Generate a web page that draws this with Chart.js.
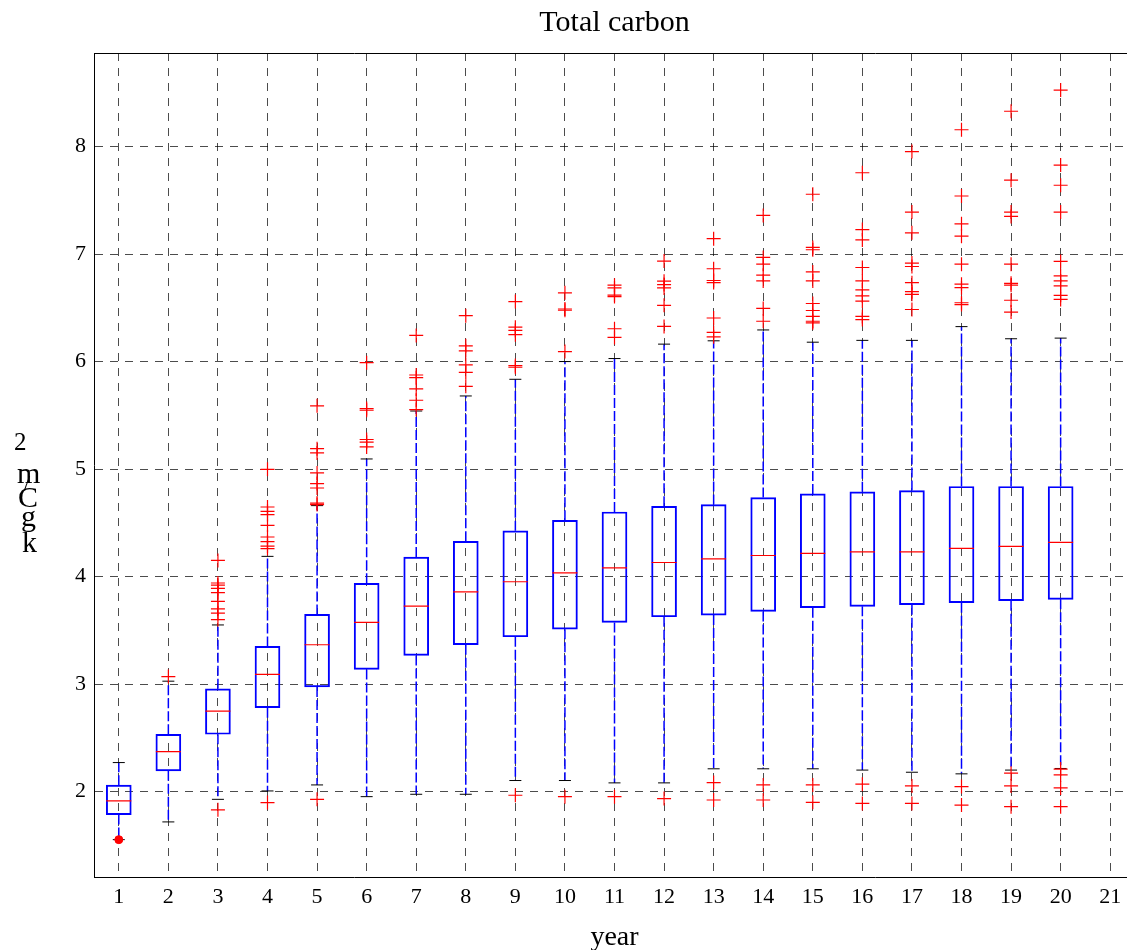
<!DOCTYPE html>
<html>
<head>
<meta charset="utf-8">
<title>Total carbon</title>
<script src="https://cdn.jsdelivr.net/npm/chart.js@4.4.1/dist/chart.umd.min.js"></script>
<style>
  html, body { margin: 0; padding: 0; background: #fff; overflow: hidden; }
  #wrap { position: relative; width: 1228px; height: 950px; }
  #carbonChart { display: block; }
  .yl { position: absolute; font-family: 'Liberation Serif', 'Times New Roman', serif; line-height: 1; color: #000; }
</style>
</head>
<body>
<div id="wrap">
  <canvas id="carbonChart" width="1228" height="950"></canvas>
  <!-- stacked y-axis label, as in the original figure -->
  <span class="yl" style="left:14px; top:429px; font-size:25px">2</span>
  <span class="yl" style="left:17px; top:458px; font-size:30px">m</span>
  <span class="yl" style="left:24px; top:472px; font-size:22px">/</span>
  <span class="yl" style="left:18px; top:482px; font-size:30px">C</span>
  <span class="yl" style="left:21px; top:501px; font-size:30px">g</span>
  <span class="yl" style="left:22px; top:527px; font-size:30px">k</span>
</div>
<script>
// Box plot values (kg C / m2)
const years = [1, 2, 3, 4, 5, 6, 7, 8, 9, 10, 11, 12, 13, 14, 15, 16, 17, 18, 19, 20];
const xTicks = [1, 2, 3, 4, 5, 6, 7, 8, 9, 10, 11, 12, 13, 14, 15, 16, 17, 18, 19, 20, 21];
const yTicks = [2, 3, 4, 5, 6, 7, 8];
const q1 = [1.786, 2.193, 2.533, 2.78, 2.974, 3.136, 3.266, 3.366, 3.44, 3.511, 3.573, 3.626, 3.642, 3.676, 3.71, 3.723, 3.738, 3.757, 3.776, 3.788];
const median = [1.913, 2.372, 2.748, 3.09, 3.366, 3.574, 3.726, 3.857, 3.952, 4.034, 4.081, 4.131, 4.165, 4.196, 4.215, 4.23, 4.23, 4.262, 4.28, 4.318];
const q3 = [2.06, 2.533, 2.956, 3.35, 3.648, 3.937, 4.182, 4.328, 4.426, 4.523, 4.601, 4.654, 4.67, 4.735, 4.769, 4.788, 4.8, 4.838, 4.838, 4.838];
const whiskerHigh = [2.27, 3.027, 3.55, 4.188, 4.66, 5.094, 5.54, 5.68, 5.835, 6.0, 6.028, 6.162, 6.193, 6.294, 6.18, 6.197, 6.197, 6.325, 6.212, 6.218];
const whiskerLow = [1.553, 1.718, 1.928, 2.006, 2.062, 1.953, 1.975, 1.975, 2.103, 2.103, 2.081, 2.081, 2.212, 2.212, 2.212, 2.2, 2.18, 2.165, 2.2, 2.215];
const outliers = [
    [],
    [3.07],
    [4.15, 3.94, 3.92, 3.89, 3.85, 3.77, 3.70, 3.66, 3.60, 1.83],
    [4.998, 4.647, 4.607, 4.577, 4.477, 4.368, 4.325, 4.284, 4.26, 1.898],
    [5.588, 5.19, 5.15, 4.964, 4.865, 4.824, 4.684, 4.67, 1.928],
    [5.99, 5.563, 5.547, 5.275, 5.25, 5.206],
    [6.243, 5.875, 5.85, 5.745, 5.64, 5.553],
    [6.427, 6.146, 6.10, 5.969, 5.90, 5.77],
    [6.558, 6.32, 6.29, 6.25, 5.963, 5.947, 1.966],
    [6.639, 6.489, 6.477, 6.093, 1.953],
    [6.71, 6.685, 6.617, 6.604, 6.305, 6.224, 1.953],
    [6.935, 6.748, 6.716, 6.685, 6.523, 6.327, 1.935],
    [7.143, 6.863, 6.754, 6.735, 6.405, 6.271, 6.23, 2.084, 1.922],
    [7.359, 6.969, 6.906, 6.803, 6.75, 6.494, 6.375, 2.062, 1.922],
    [7.556, 7.062, 7.04, 6.834, 6.75, 6.54, 6.475, 6.42, 6.375, 6.36, 2.062, 1.9],
    [7.756, 7.228, 7.131, 6.875, 6.75, 6.666, 6.61, 6.562, 6.42, 6.39, 2.069, 1.89],
    [7.953, 7.39, 7.197, 6.916, 6.884, 6.734, 6.65, 6.625, 6.484, 2.053, 1.89],
    [8.156, 7.54, 7.281, 7.166, 6.906, 6.72, 6.687, 6.547, 6.53, 2.047, 1.875],
    [8.328, 7.687, 7.39, 7.35, 6.906, 6.728, 6.71, 6.57, 6.46, 2.171, 2.053, 1.86],
    [8.525, 7.828, 7.64, 7.39, 6.931, 6.797, 6.75, 6.703, 6.616, 6.578, 2.209, 2.156, 2.034, 1.86]
];
// the single filled marker under year 1
const year1Low = [1.553];

const serif = "'Liberation Serif', 'Times New Roman', serif";

// build the point lists the library needs
const boxPoints = years.map((yr, i) => ({ x: yr, y: [q1[i], q3[i]] }));
const medianPoints = years.map((yr, i) => ({ x: yr, y: median[i] }));
const capPoints = [];
const whiskerPoints = [];
years.forEach((yr, i) => {
    capPoints.push({ x: yr, y: whiskerHigh[i] }, { x: yr, y: whiskerLow[i] });
    whiskerPoints.push({ x: yr, y: q3[i] }, { x: yr, y: whiskerHigh[i] }, { x: yr, y: null });
    whiskerPoints.push({ x: yr, y: q1[i] }, { x: yr, y: whiskerLow[i] }, { x: yr, y: null });
});
const outlierPoints = [];
outliers.forEach((list, i) => {
    list.forEach(v => outlierPoints.push({ x: years[i], y: v }));
});
const dotPoints = year1Low.map(v => ({ x: years[0], y: v }));

const ctx = document.getElementById('carbonChart').getContext('2d');
const carbonChart = new Chart(ctx, {
    type: 'scatter',
    data: {
        datasets: [
            {
                label: 'low value',
                data: dotPoints,
                pointStyle: 'circle',
                pointRadius: 4,
                backgroundColor: '#ff0000',
                borderColor: '#ff0000',
                borderWidth: 1
            },
            {
                label: 'outliers',
                data: outlierPoints,
                pointStyle: 'cross',
                pointRadius: 7,
                borderColor: '#ff0000',
                borderWidth: 1.2
            },
            {
                label: 'median',
                data: medianPoints,
                pointStyle: 'line',
                pointRadius: 12.5,
                borderColor: '#ff0000',
                borderWidth: 1.2
            },
            {
                label: 'whisker caps',
                data: capPoints,
                pointStyle: 'line',
                pointRadius: 6,
                borderColor: '#000000',
                borderWidth: 1
            },
            {
                type: 'bar',
                label: 'box',
                data: boxPoints,
                barThickness: 25,
                backgroundColor: 'rgba(0,0,0,0)',
                borderColor: '#0000ff',
                borderWidth: 1.3,
                borderSkipped: false
            },
            {
                type: 'line',
                label: 'whiskers',
                data: whiskerPoints,
                showLine: true,
                spanGaps: false,
                pointRadius: 0,
                borderColor: '#0000ff',
                borderWidth: 1.5,
                borderDash: [10, 3]
            }
        ]
    },
    options: {
        responsive: false,
        animation: false,
        layout: {
            padding: { left: 67, right: 93, top: 0, bottom: 0 }
        },
        plugins: {
            legend: { display: false },
            tooltip: { enabled: false },
            title: {
                display: true,
                fullSize: false,
                text: 'Total carbon',
                color: '#000',
                font: { family: serif, size: 30, weight: 'normal', lineHeight: 1.0 },
                padding: { top: 8, bottom: 15 }
            }
        },
        scales: {
            x: {
                type: 'linear',
                position: 'bottom',
                min: 0.5,
                max: 21.5,
                offset: false,
                afterBuildTicks: axis => { axis.ticks = xTicks.map(v => ({ value: v })); },
                ticks: {
                    color: '#000',
                    padding: 6,
                    font: { family: serif, size: 22 }
                },
                grid: {
                    offset: false,
                    drawTicks: false,
                    color: 'rgba(0,0,0,0.7)',
                    lineWidth: 1
                },
                border: { display: true, color: '#000', width: 1, dash: [8, 7] },
                title: {
                    display: true,
                    text: 'year',
                    color: '#000',
                    font: { family: serif, size: 28, lineHeight: 1 },
                    padding: { top: 8, bottom: -2 }
                }
            },
            x2: {
                type: 'linear',
                position: 'top',
                min: 0.5,
                max: 21.5,
                ticks: { display: false },
                grid: { display: false, drawTicks: false },
                border: { display: true, color: '#000', width: 1 }
            },
            y: {
                type: 'linear',
                min: 1.2,
                max: 8.87,
                afterBuildTicks: axis => { axis.ticks = yTicks.map(v => ({ value: v })); },
                ticks: {
                    color: '#000',
                    padding: 8,
                    font: { family: serif, size: 22 }
                },
                grid: {
                    drawTicks: false,
                    color: 'rgba(0,0,0,0.7)',
                    lineWidth: 1
                },
                border: { display: true, color: '#000', width: 1, dash: [8, 7] }
            }
        }
    }
});
</script>
</body>
</html>
